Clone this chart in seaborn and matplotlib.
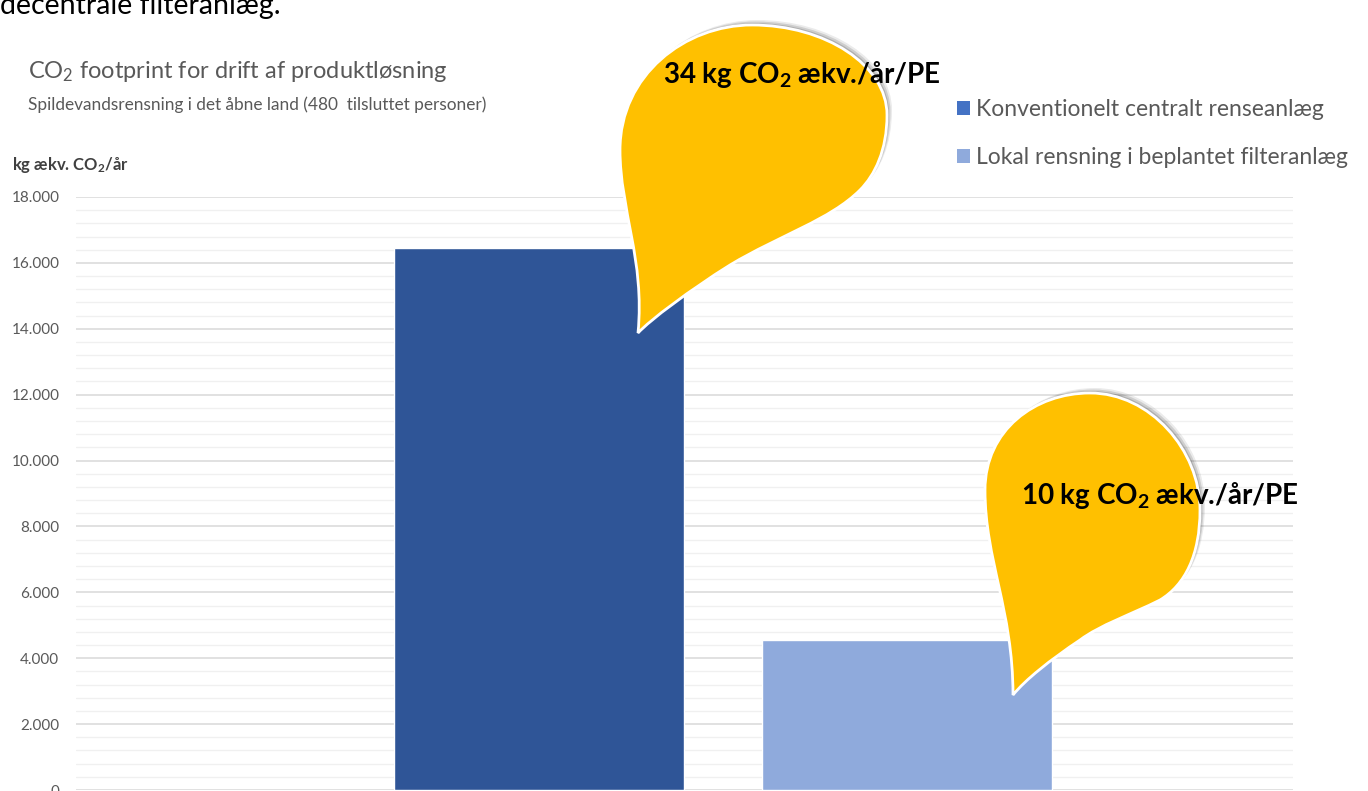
import matplotlib
matplotlib.use("Agg")
import matplotlib.pyplot as plt
import seaborn as sns
import pandas as pd
from matplotlib.path import Path
from matplotlib.patches import PathPatch, Patch
from matplotlib.transforms import Affine2D
from matplotlib.ticker import MultipleLocator, FuncFormatter

# ---- data ----
categories = ["Konventionelt centralt renseanlæg", "Lokal rensning i beplantet filteranlæg"]
values = [16450, 4550]
bar_colors = ["#2F5597", "#8FAADC"]
legend_colors = ["#4472C4", "#8FAADC"]
bubble_labels = ["34 kg CO$_\\mathbf{2}$ ækv./år/PE", "10 kg CO$_\\mathbf{2}$ ækv./år/PE"]

sns.set_theme(style="white")
plt.rcParams["font.family"] = ["Lato", "DejaVu Sans"]
plt.rcParams["mathtext.fontset"] = "custom"
plt.rcParams["mathtext.rm"] = "Lato"
plt.rcParams["mathtext.it"] = "Lato:italic"
plt.rcParams["mathtext.bf"] = "Lato:bold"

W, H = 1368, 791
fig = plt.figure(figsize=(W / 100, H / 100), dpi=100)
fig.patch.set_facecolor("white")

# axes placement in pixels
left_px, right_px, top_px, bot_px = 76, 1293, 197, 790
ax = fig.add_axes([left_px / W, (H - bot_px) / H, (right_px - left_px) / W, (bot_px - top_px) / H])

df = pd.DataFrame({"cat": categories, "value": values})
sns.barplot(data=df, x="cat", y="value", hue="cat", palette=bar_colors,
            width=0.788, saturation=1, legend=False, ax=ax, zorder=3)

ax.set_ylim(0, 18000)
ax.set_xlim(-1.258, 2.049)
ax.yaxis.set_major_locator(MultipleLocator(2000))
ax.yaxis.set_minor_locator(MultipleLocator(400))
ax.yaxis.set_major_formatter(FuncFormatter(lambda v, p: f"{int(v):,}".replace(",", ".")))
ax.grid(axis="y", which="major", color="#D9D9D9", linewidth=1.1, zorder=0)
ax.grid(axis="y", which="minor", color="#F0F0F0", linewidth=1.0, zorder=0)
ax.set_axisbelow(True)
for s in ax.spines.values():
    s.set_visible(False)
ax.tick_params(axis="y", which="both", length=0, labelsize=11, labelcolor="#595959", pad=12)
ax.tick_params(axis="x", length=0)
ax.set_xticklabels([])
ax.set_xlabel("")
ax.set_ylabel("")

# ---- texts ----
def fy(y):
    return 1 - y / H

fig.text(0 / W, fy(14), "decentrale filteranlæg.", fontsize=20.5, color="black", va="baseline", ha="left")
fig.text(28 / W, fy(78), "CO$_2$ footprint for drift af produktløsning", fontsize=17, color="#595959",
         va="baseline", ha="left")
fig.text(28 / W, fy(110), "Spildevandsrensning i det åbne land (480  tilsluttet personer)", fontsize=12.4,
         color="#595959", va="baseline", ha="left")
fig.text(12 / W, fy(170), "kg ækv. CO$_\\mathbf{2}$/år", fontsize=12, fontweight="bold", color="#404040",
         va="baseline", ha="left")

# legend
handles = [Patch(facecolor=c, edgecolor="none") for c in legend_colors]
fig.legend(handles, categories, loc="upper left", bbox_to_anchor=(957 / W, fy(99)),
           frameon=False, fontsize=16.5, labelcolor="#595959", handlelength=0.55, handleheight=0.55,
           handletextpad=0.3, labelspacing=1.2, borderaxespad=0, borderpad=0)

# ---- speech bubbles (pixel coords, y down) ----
pix = Affine2D().scale(1 / W, -1 / H).translate(0, 1) + fig.transFigure

def bubble(pts):
    verts = [pts[0]]
    codes = [Path.MOVETO]
    for seg in pts[1:]:
        verts += list(seg)
        codes += [Path.CURVE4] * 3
    verts.append(pts[0])
    codes.append(Path.CLOSEPOLY)
    return Path(verts, codes)

b1 = [(638, 333),
      ((645, 260), (620, 210), (620, 150)),
      ((620, 75), (685, 25), (752, 25)),
      ((825, 25), (887, 65), (887, 115)),
      ((887, 150), (875, 175), (860, 190)),
      ((830, 220), (780, 235), (730, 265)),
      ((690, 290), (650, 320), (638, 333))]
b2 = [(1013, 695),
      ((1013, 610), (985, 560), (985, 490)),
      ((985, 430), (1035, 393), (1090, 393)),
      ((1150, 393), (1200, 450), (1200, 510)),
      ((1200, 555), (1185, 585), (1160, 600)),
      ((1130, 615), (1100, 625), (1080, 640)),
      ((1050, 660), (1025, 680), (1013, 695))]

for b in (b1, b2):
    p = bubble(b)
    for off, a in ((5, 0.08), (3.5, 0.12), (2, 0.15)):
        fig.add_artist(PathPatch(p, facecolor="#000000", edgecolor="none", alpha=a,
                                 transform=Affine2D().translate(off, -off) + pix, zorder=5))
    fig.add_artist(PathPatch(p, facecolor="#FFC000", edgecolor="white", linewidth=2,
                             transform=pix, zorder=6))

fig.text(663 / W, fy(83), bubble_labels[0], fontsize=20, fontweight="bold", color="black",
         va="baseline", ha="left", zorder=10)
fig.text(1021 / W, fy(504), bubble_labels[1], fontsize=20, fontweight="bold", color="black",
         va="baseline", ha="left", zorder=10)

fig.savefig("out.png", dpi=100)
